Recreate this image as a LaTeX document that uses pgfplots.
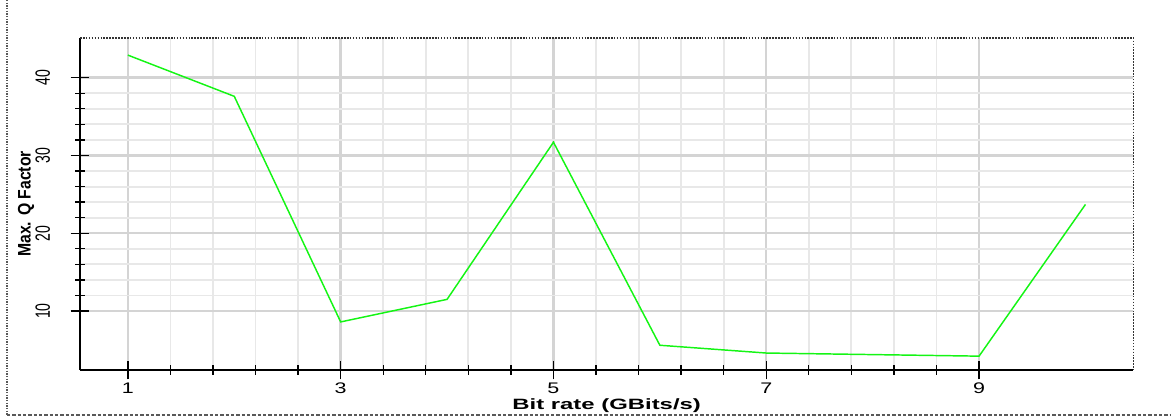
\documentclass[border=0pt]{standalone}
\usepackage{fontspec}
\setmainfont{Liberation Sans}
\newfontfamily\xtickfont[FakeStretch=1.4]{Liberation Sans}
\newfontfamily\xlabfont[FakeStretch=1.6]{Liberation Sans}
\newfontfamily\ytickfont[FakeStretch=0.68]{Liberation Sans}
\newfontfamily\ylabfont[FakeStretch=0.87]{Liberation Sans}
\usepackage{pgfplots}
\pgfplotsset{compat=1.18}
\definecolor{qgreen}{RGB}{20,245,20}
\definecolor{majgrid}{RGB}{212,212,212}
\definecolor{mingrid}{RGB}{232,232,232}

\begin{document}
\begin{tikzpicture}
\path[use as bounding box] (-60pt,-35.25pt) rectangle (818.25pt,277.5pt);
\draw[densely dotted, gray!70!black, line width=1pt] (-54.75pt,277.5pt) -- (-54.75pt,-33.75pt);
\draw[dash pattern=on 2.5pt off 1.5pt, gray!70!black, line width=1pt] (-54.75pt,-33.75pt) -- (818.25pt,-33.75pt);
\begin{axis}[
  scale only axis,
  width=790pt, height=249pt,
  xmin=0.55, xmax=10.45,
  ymin=2.42, ymax=45.1,
  xtick={1,3,5,7,9},
  ytick={10,20,30,40},
  minor x tick num=4,
  minor y tick num=4,
  grid=both,
  major grid style={majgrid, line width=1.8pt},
  minor grid style={mingrid, line width=1.4pt},
  axis lines=left,
  axis line style={-, black, line width=1.4pt},
  tick align=center,
  major tick length=14pt,
  minor tick length=7pt,
  tick style={black, line width=1pt},
  clip=false,
  /pgf/number format/assume math mode=true,
  xticklabel style={font=\xtickfont\fontsize{11.5}{13}\selectfont, anchor=center, yshift=-7pt},
  yticklabel style={font=\ytickfont\fontsize{15.5}{17}\selectfont, anchor=center, xshift=-21pt, rotate=90},
  xlabel={\textbf{Bit rate (GBits/s)}},
  ylabel={\textbf{Max. Q Factor}},
  xlabel style={font=\xlabfont\fontsize{11.2}{13}\selectfont, at={(axis description cs:0.5,-0.1084)}, anchor=center},
  ylabel style={font=\ylabfont\fontsize{13.6}{15}\selectfont, at={(axis description cs:-0.0513,0.5)}, anchor=center},
]
\addplot[qgreen, line width=1.1pt] coordinates {
  (1,42.9) (2,37.6) (3,8.6) (4,11.5) (5,31.7) (6,5.6) (7,4.6) (8,4.4) (9,4.2) (10,23.7)
};
\draw[densely dotted, black!80, line width=1.2pt] (rel axis cs:0,1) -- (rel axis cs:1,1) -- (rel axis cs:1,0);
\end{axis}
\end{tikzpicture}
\end{document}
